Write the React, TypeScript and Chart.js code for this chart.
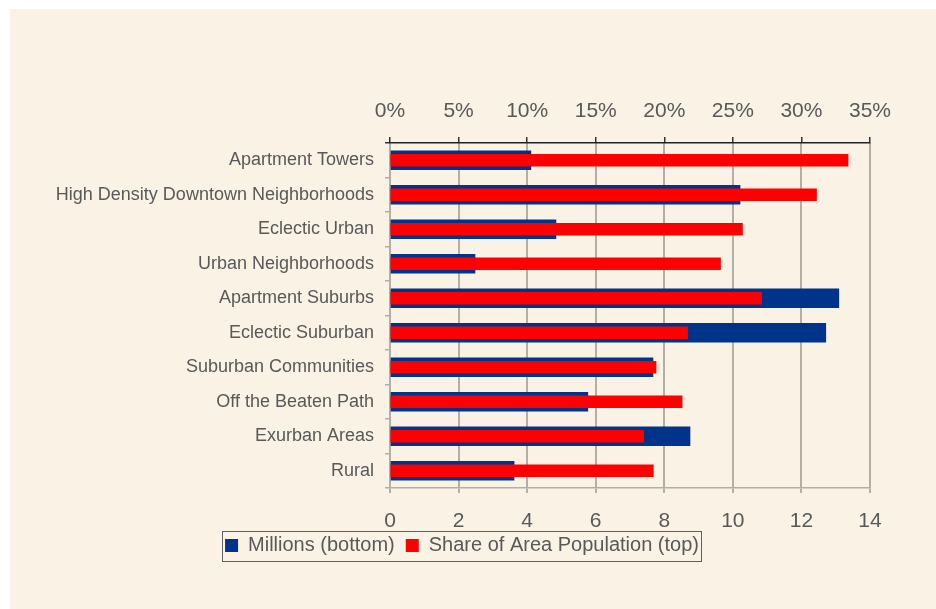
import React, { useEffect, useRef } from "react";
import { Chart, registerables } from "chart.js";

Chart.register(...registerables);

const categories = [
  "Apartment Towers",
  "High Density Downtown Neighborhoods",
  "Eclectic Urban",
  "Urban Neighborhoods",
  "Apartment Suburbs",
  "Eclectic Suburban",
  "Suburban Communities",
  "Off the Beaten Path",
  "Exurban Areas",
  "Rural",
];
const millions = [4.11, 10.21, 4.84, 2.48, 13.09, 12.71, 7.67, 5.77, 8.75, 3.62];
const sharePct = [33.4, 31.1, 25.7, 24.1, 27.1, 21.7, 19.4, 21.3, 18.5, 19.2];
const seriesNames = ["Millions (bottom)", "Share of Area Population (top)"];

const FONT = "'Liberation Sans', Arial, sans-serif";
const TEXT = "#595959";
const BLUE = "#00338A";
const RED = "#FF0000";
const GRID = "#b3afa4";

const legendShift = {
  id: "legendShift",
  afterLayout(chart: any) {
    const lg = chart.legend;
    if (!lg) return;
    lg.top -= 7.7;
    lg.bottom -= 7.7;
  },
};

const legendFrame = {
  id: "legendFrame",
  afterDraw(chart: any) {
    const lg = chart.legend;
    if (!lg || !lg.legendHitBoxes || !lg.legendHitBoxes.length) return;
    let l = Infinity, r = -Infinity, t = Infinity, b = -Infinity;
    lg.legendHitBoxes.forEach((h: any) => {
      l = Math.min(l, h.left);
      r = Math.max(r, h.left + h.width);
      t = Math.min(t, h.top);
      b = Math.max(b, h.top + h.height);
    });
    const ctx = chart.ctx;
    ctx.save();
    ctx.strokeStyle = "#5f5f5f";
    ctx.lineWidth = 1;
    ctx.strokeRect(Math.round(l - 3) + 0.5, Math.round(t - 5) + 0.5, Math.round(r - l + 5), Math.round(b - t + 10));
    ctx.restore();
  },
};

export default function App() {
  const ref = useRef<HTMLCanvasElement | null>(null);

  useEffect(() => {
    if (!ref.current) return;
    const chart = new Chart(ref.current, {
      type: "bar",
      data: {
        labels: categories,
        datasets: [
          {
            label: seriesNames[0],
            data: millions,
            xAxisID: "x",
            backgroundColor: BLUE,
            borderWidth: 0,
            barThickness: 19,
            grouped: false,
            order: 1,
          },
          {
            label: seriesNames[1],
            data: sharePct,
            xAxisID: "x2",
            backgroundColor: RED,
            borderWidth: 0,
            barThickness: 12,
            grouped: false,
            order: 0,
          },
        ],
      },
      options: {
        indexAxis: "y",
        animation: false,
        responsive: false,
        maintainAspectRatio: false,
        layout: { padding: { left: 44, right: 66, top: 90, bottom: 35.8 } },
        plugins: {
          tooltip: { enabled: false },
          title: { display: false },
          legend: {
            display: true,
            position: "bottom",
            labels: {
              boxWidth: 13,
              boxHeight: 13,
              padding: 11,
              color: TEXT,
              font: { family: FONT, size: 20 },
              sort: (a: any, b: any) => a.datasetIndex - b.datasetIndex,
            },
          },
        },
        scales: {
          y: {
            type: "category",
            position: "left",
            offset: true,
            afterFit: (s: any) => { s.width = 336; },
            grid: {
              display: true,
              offset: true,
              drawOnChartArea: false,
              drawTicks: true,
              tickLength: 5,
              color: (c: any) => (c.index === 0 ? "#333333" : GRID),
              lineWidth: 1.5,
            },
            border: { display: true, color: GRID, width: 1.5 },
            ticks: {
              color: TEXT,
              padding: 11,
              font: { family: FONT, size: 18 },
            },
          },
          x: {
            type: "linear",
            position: "bottom",
            min: 0,
            max: 14,
            afterFit: (s: any) => { s.height = 44.2; },
            grid: {
              display: true,
              color: GRID,
              lineWidth: 2,
              drawTicks: true,
              tickLength: 5,
            },
            border: { display: true, color: GRID, width: 1.5 },
            ticks: {
              stepSize: 2,
              color: TEXT,
              padding: 16,
              maxRotation: 0,
              font: { family: FONT, size: 21, lineHeight: 1.2 },
            },
          },
          x2: {
            type: "linear",
            position: "top",
            min: 0,
            max: 35,
            afterFit: (s: any) => { s.height = 44; },
            grid: {
              display: true,
              drawOnChartArea: false,
              drawTicks: true,
              tickLength: 6,
              color: "#333333",
              lineWidth: 1.5,
            },
            border: { display: true, color: "#222222", width: 1.5 },
            ticks: {
              stepSize: 5,
              color: TEXT,
              padding: 13,
              maxRotation: 0,
              font: { family: FONT, size: 21, lineHeight: 1.2 },
              callback: (v: any) => v + "%",
            },
          },
        },
      },
      plugins: [legendShift, legendFrame],
    });
    return () => chart.destroy();
  }, []);

  return (
    <div
      style={{
        position: "absolute",
        left: 10,
        top: 9,
        width: 926,
        height: 600,
        background: "#F9F2E5",
      }}
    >
      <canvas ref={ref} width={926} height={600} style={{ display: "block", width: 926, height: 600 }} />
    </div>
  );
}
